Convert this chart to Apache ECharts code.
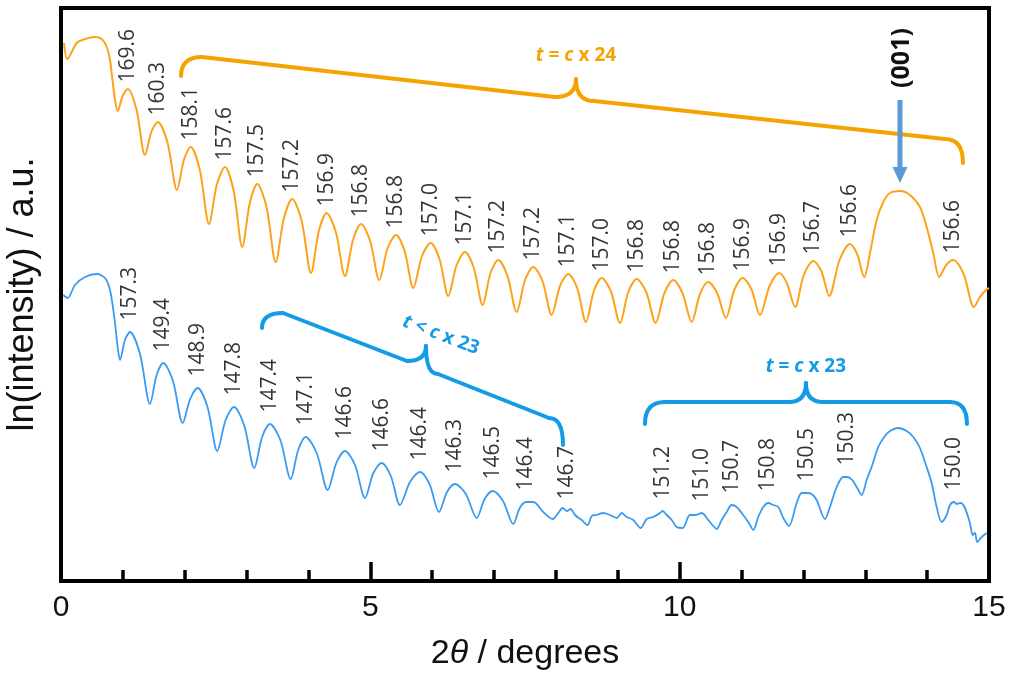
<!DOCTYPE html>
<html>
<head>
<meta charset="utf-8">
<script src="https://cdn.jsdelivr.net/npm/echarts@6/dist/echarts.min.js"></script>
<style>
  html, body { margin: 0; padding: 0; background: #fff; }
  #chart { width: 1011px; height: 677px; }
</style>
</head>
<body>
<div id="chart"></div>
<script>
// X-ray reflectivity style scans: 2θ (degrees) vs ln(intensity), arbitrary units
const orangeScan = [
  [0.048,5.38],[0.102,5.22],[0.254,5.38],[0.388,5.42],[0.550,5.44],[0.658,5.42],[0.739,5.34],[0.792,5.21],[0.832,5.01],[0.873,4.81],[0.916,4.70],
  [0.997,4.85],[1.078,4.92],[1.218,4.72],[1.358,4.26],
  [1.460,4.49],[1.563,4.59],[1.719,4.39],[1.875,3.91],
  [1.986,4.21],[2.096,4.34],[2.244,4.11],[2.392,3.57],
  [2.521,3.97],[2.651,4.14],[2.791,3.90],[2.930,3.34],
  [3.052,3.78],[3.173,3.97],[3.322,3.74],[3.470,3.19],
  [3.604,3.63],[3.738,3.82],[3.890,3.60],[4.041,3.08],
  [4.168,3.50],[4.294,3.68],[4.442,3.49],[4.590,3.05],
  [4.720,3.41],[4.849,3.57],[4.997,3.40],[5.145,3.01],
  [5.280,3.33],[5.415,3.46],[5.554,3.30],[5.694,2.93],
  [5.835,3.25],[5.975,3.38],[6.118,3.22],[6.260,2.85],
  [6.395,3.16],[6.530,3.29],[6.673,3.13],[6.816,2.76],
  [6.942,3.08],[7.068,3.21],[7.217,3.05],[7.365,2.69],
  [7.500,3.01],[7.634,3.14],[7.782,3.00],[7.931,2.66],
  [8.065,2.95],[8.200,3.07],[8.343,2.93],[8.486,2.59],
  [8.613,2.90],[8.739,3.03],[8.887,2.90],[9.035,2.58],
  [9.170,2.89],[9.305,3.02],[9.459,2.89],[9.612,2.58],
  [9.754,2.88],[9.897,3.01],[10.045,2.88],[10.194,2.59],
  [10.328,2.87],[10.462,2.99],[10.605,2.88],[10.748,2.63],
  [10.883,2.91],[11.018,3.03],[11.158,2.92],[11.298,2.66],
  [11.454,2.95],[11.610,3.08],[11.731,2.98],[11.866,2.74],
  [12.006,3.06],[12.159,3.20],[12.289,3.10],[12.418,2.85],
  [12.585,3.21],[12.753,3.37],[12.868,3.27],[12.984,3.04],
  [13.076,3.28],[13.184,3.61],[13.291,3.79],[13.399,3.88],[13.561,3.90],[13.722,3.86],[13.884,3.74],[13.992,3.54],[14.099,3.28],[14.196,3.04],
  [14.309,3.16],[14.422,3.21],[14.590,3.07],[14.757,2.74],
  [14.854,2.84],[14.951,2.91],[15.0,2.93]
];

const blueScan = [
  [0.037,2.86],[0.108,2.83],[0.226,2.96],[0.388,3.04],[0.577,3.07],[0.711,3.03],[0.792,2.91],[0.861,2.64],[0.916,2.34],[0.954,2.21],
  [1.034,2.41],[1.115,2.49],[1.277,2.27],[1.438,1.77],
  [1.546,2.06],[1.653,2.18],[1.810,2.00],[1.967,1.58],
  [2.088,1.82],[2.209,1.93],[2.368,1.74],[2.526,1.30],
  [2.661,1.61],[2.796,1.74],[2.960,1.56],[3.124,1.13],
  [3.251,1.44],[3.378,1.57],[3.545,1.41],[3.713,1.02],
  [3.834,1.31],[3.955,1.44],[4.133,1.28],[4.311,0.91],
  [4.450,1.18],[4.590,1.30],[4.752,1.16],[4.914,0.83],
  [5.049,1.08],[5.183,1.18],[5.331,1.05],[5.479,0.76],
  [5.641,0.99],[5.802,1.09],[5.956,0.97],[6.110,0.69],
  [6.239,0.89],[6.368,0.97],[6.544,0.87],[6.719,0.63],
  [6.848,0.82],[6.977,0.90],[7.144,0.80],[7.310,0.57],
  [7.416,0.73],[7.516,0.79],[7.634,0.79],[7.795,0.69],[7.947,0.62],
  [8.038,0.68],[8.109,0.73],[8.174,0.70],[8.238,0.72],[8.308,0.66],[8.416,0.61],[8.513,0.56],[8.578,0.65],[8.658,0.66],[8.765,0.68],
  [8.873,0.66],[8.982,0.63],[9.062,0.68],[9.143,0.64],[9.250,0.61],[9.370,0.53],[9.467,0.62],[9.573,0.64],[9.682,0.68],[9.725,0.70],
  [9.790,0.66],[9.871,0.61],[9.951,0.54],[10.048,0.53],[10.166,0.66],[10.260,0.66],
  [10.356,0.68],[10.462,0.61],[10.543,0.55],[10.598,0.52],[10.679,0.61],[10.760,0.69],[10.840,0.76],[10.921,0.74],[11.002,0.68],[11.109,0.59],
  [11.190,0.51],[11.270,0.64],[11.351,0.74],[11.432,0.78],[11.513,0.76],[11.594,0.74],[11.675,0.63],[11.767,0.55],[11.891,0.78],[11.972,0.88],
  [12.053,0.88],[12.134,0.87],[12.214,0.81],[12.349,0.62],[12.429,0.74],[12.538,0.94],[12.644,1.04],[12.709,1.04],[12.790,1.01],[12.861,0.94],
  [12.942,0.86],[13.022,1.01],[13.103,1.14],[13.210,1.34],[13.307,1.44],[13.399,1.50],[13.533,1.53],[13.669,1.50],[13.776,1.44],[13.884,1.33],
  [13.992,1.14],[14.073,0.98],[14.154,0.74],[14.235,0.59],[14.316,0.66],[14.369,0.76],[14.434,0.79],[14.477,0.77],[14.542,0.78],[14.611,0.73],
  [14.692,0.58],[14.736,0.46],[14.773,0.48],[14.810,0.39],[14.881,0.44],[14.962,0.48]
];

// fringe maxima that carry a thickness label (2θ of the maximum)
const orangePeakX = [1.078,1.563,2.096,2.651,3.173,3.738,4.294,4.849,5.415,5.975,6.530,7.068,7.634,8.200,8.739,9.305,9.897,10.462,11.018,11.610,12.159,12.753,14.422];
const orangeThickness = ['169.6','160.3','158.1','157.6','157.5','157.2','156.9','156.8','156.8','157.0','157.1','157.2','157.2','157.1','157.0','156.8','156.8','156.8','156.9','156.9','156.7','156.6','156.6'];
const bluePeakX = [1.115,1.653,2.209,2.796,3.378,3.955,4.590,5.183,5.802,6.368,6.977,7.575,8.174,9.725,10.356,10.840,11.432,12.053,12.709,14.434];
const blueThickness = ['157.3','149.4','148.9','147.8','147.4','147.1','146.6','146.6','146.4','146.3','146.5','146.4','146.7','151.2','151.0','150.7','150.8','150.5','150.3','150.0'];

const xTicks = [0, 5, 10, 15];

const ORANGE = '#FDA31B';
const ORANGE_NOTE = '#F5A300';
const BLUE = '#3A9BF0';
const BLUE_NOTE = '#139BE6';
const ARROW = '#5B9BD5';
const AXIS_FONT = '"Liberation Sans", Arial, sans-serif';
const NOTE_FONT = '"Open Sans", "Liberation Sans", sans-serif';

function nearestPoint(scan, x) {
  let best = scan[0];
  for (const p of scan) if (Math.abs(p[0] - x) < Math.abs(best[0] - x)) best = p;
  return best;
}

function labelSeries(scan, xs, texts, gap) {
  return {
    type: 'scatter',
    symbolSize: 1,
    itemStyle: { color: 'transparent' },
    silent: true,
    z: 5,
    data: xs.map((x, i) => ({ value: nearestPoint(scan, x), name: texts[i] })),
    label: {
      show: true,
      position: 'top',
      distance: gap,
      rotate: 90,
      align: 'left',
      verticalAlign: 'middle',
      formatter: p => p.name,
      color: '#000',
      fontFamily: NOTE_FONT,
      fontSize: 21
    }
  };
}

const chart = echarts.init(document.getElementById('chart'), null, { renderer: 'canvas' });

chart.setOption({
  animation: false,
  backgroundColor: '#fff',
  grid: {
    left: 61, right: 22, top: 8, bottom: 96,
    show: true, borderColor: '#000', borderWidth: 4,
    outerBoundsMode: 'none'
  },
  xAxis: {
    type: 'value',
    min: xTicks[0], max: xTicks[xTicks.length - 1], interval: 5,
    name: '2{i|θ} / degrees',
    nameLocation: 'middle',
    nameGap: 56,
    nameTextStyle: {
      fontFamily: AXIS_FONT, fontSize: 34, color: '#111',
      rich: { i: { fontFamily: AXIS_FONT, fontSize: 34, fontStyle: 'italic', color: '#111' } }
    },
    axisLine: { show: true, lineStyle: { color: '#000', width: 4 } },
    axisTick: { show: true, inside: true, length: 19, lineStyle: { color: '#000', width: 3.5 } },
    minorTick: { show: true, splitNumber: 5, length: 11, lineStyle: { color: '#000', width: 3.5 } },
    axisLabel: { margin: 12, fontFamily: AXIS_FONT, fontSize: 30, color: '#111' },
    splitLine: { show: false },
    minorSplitLine: { show: false }
  },
  yAxis: {
    type: 'value',
    min: 0, max: 5.73,
    name: 'ln(intensity) / a.u.',
    nameLocation: 'middle',
    nameGap: 20,
    nameTextStyle: { fontFamily: AXIS_FONT, fontSize: 36, color: '#111' },
    axisLine: { show: false },
    axisTick: { show: false },
    axisLabel: { show: false },
    splitLine: { show: false }
  },
  series: [
    {
      type: 'line', data: orangeScan, showSymbol: false, smooth: 0.3, silent: true,
      lineStyle: { color: ORANGE, width: 2 }, z: 3
    },
    {
      type: 'line', data: blueScan, showSymbol: false, smooth: 0.3, silent: true,
      lineStyle: { color: BLUE, width: 1.8 }, z: 3
    },
    labelSeries(orangeScan, orangePeakX, orangeThickness, 6),
    labelSeries(blueScan, bluePeakX, blueThickness, 11)
  ]
});

// ---- annotations: braces, thickness notes and the (001) marker ----
function px(p) { return chart.convertToPixel({ gridIndex: 0 }, p); }

// key points of a brace: left end, left corner, cusp start, cusp tip, cusp end, right corner, right end
function brace(pts, color) {
  const [a, b, c, t, d, e, f] = pts.map(px);
  const style = { stroke: color, lineWidth: 4, fill: null, lineCap: 'round' };
  const curve = (p, q, cp) => ({
    type: 'bezierCurve', silent: true,
    shape: { x1: p[0], y1: p[1], x2: q[0], y2: q[1], cpx1: cp[0], cpy1: cp[1] },
    style
  });
  const seg = (p, q) => ({
    type: 'line', silent: true,
    shape: { x1: p[0], y1: p[1], x2: q[0], y2: q[1] },
    style
  });
  return {
    type: 'group', silent: true, z: 10,
    children: [
      curve(a, b, [a[0], b[1]]),
      seg(b, c),
      curve(c, t, [t[0], c[1]]),
      curve(t, d, [t[0], d[1]]),
      seg(d, e),
      curve(e, f, [f[0], e[1]])
    ]
  };
}

function note(parts, at, color, rotation) {
  const p = px(at);
  const base = { fontFamily: NOTE_FONT, fontSize: 19, fontWeight: 'bold', fill: color };
  return {
    type: 'text', silent: true, z: 11,
    x: p[0], y: p[1], rotation: rotation || 0,
    style: {
      text: parts,
      rich: {
        i: Object.assign({}, base, { fontStyle: 'italic' }),
        n: Object.assign({}, base)
      },
      align: 'center', verticalAlign: 'middle'
    }
  };
}

const arrowTop = px([13.561, 4.81]);
const arrowTip = px([13.561, 3.98]);
const markPos = px([13.593, 5.23]);

chart.setOption({
  graphic: [
    brace([[1.940, 5.05], [2.279, 5.24], [7.985, 4.84], [8.324, 5.02], [8.615, 4.80], [14.288, 4.42], [14.579, 4.18]], ORANGE_NOTE),
    brace([[3.249, 2.53], [3.588, 2.68], [5.592, 2.20], [5.899, 2.35], [6.093, 2.07], [7.888, 1.63], [8.114, 1.36]], BLUE_NOTE),
    brace([[9.439, 1.57], [9.762, 1.79], [11.767, 1.79], [12.041, 1.98], [12.316, 1.79], [14.369, 1.79], [14.644, 1.57]], BLUE_NOTE),
    note('{i|t}{n| = }{i|c}{n| x 24}', [8.324, 5.25], ORANGE_NOTE, 0),
    note('{i|t}{n| < }{i|c}{n| x 23}', [6.142, 2.46], BLUE_NOTE, -0.367),
    note('{i|t}{n| = }{i|c}{n| x 23}', [12.041, 2.14], BLUE_NOTE, 0),
    {
      type: 'text', silent: true, z: 11,
      x: markPos[0], y: markPos[1], rotation: Math.PI / 2,
      style: { text: '(001)', fontFamily: NOTE_FONT, fontSize: 25, fontWeight: 'bold', fill: '#111', align: 'center', verticalAlign: 'middle' }
    },
    {
      type: 'line', silent: true, z: 11,
      shape: { x1: arrowTop[0], y1: arrowTop[1], x2: arrowTip[0], y2: arrowTip[1] - 14 },
      style: { stroke: ARROW, lineWidth: 5 }
    },
    {
      type: 'polygon', silent: true, z: 11,
      shape: { points: [[arrowTip[0] - 7.5, arrowTip[1] - 16], [arrowTip[0] + 7.5, arrowTip[1] - 16], [arrowTip[0], arrowTip[1]]] },
      style: { fill: ARROW }
    }
  ]
});
</script>
</body>
</html>
